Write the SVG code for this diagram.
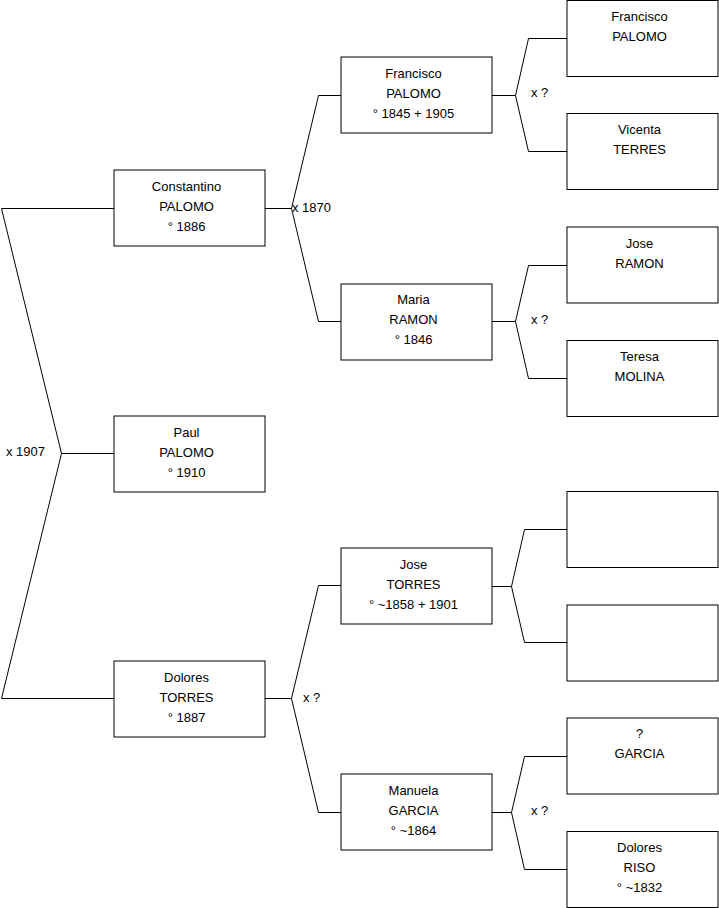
<svg xmlns="http://www.w3.org/2000/svg" width="719" height="908" viewBox="0 0 719 908">
<style>
.box{fill:#fff;stroke:#000;stroke-width:1}
.ln{fill:none;stroke:#000;stroke-width:1}
text{font-family:"Liberation Sans",Arial,sans-serif;font-size:13px;fill:#000}
.c{text-anchor:middle}
</style>
<rect width="719" height="908" fill="#fff"/>
<g id="connectors">
<path class="ln" d="M114,208.5 H1.5 L61.5,453.5 L1.5,698.5 H114 M61.5,453.5 H114"/>
<path class="ln" d="M265,208.5 H291.5 M341,95.5 H318.5 L291.5,208.5 L318.5,321.5 H341"/>
<path class="ln" d="M265,698.5 H291.5 M341,585.5 H318.5 L291.5,698.5 L318.5,812.5 H341"/>
<path class="ln" d="M492,95.5 H515.5 M567,38.5 H528.5 L515.5,95.5 L528.5,151.5 H567"/>
<path class="ln" d="M492,321.5 H515.5 M567,265.5 H528.5 L515.5,321.5 L528.5,378.5 H567"/>
<path class="ln" d="M492,586.5 H511.5 M567,529.5 H524.5 L511.5,586.5 L524.5,642.5 H567"/>
<path class="ln" d="M492,812.5 H511.5 M567,756.5 H524.5 L511.5,812.5 L524.5,869.5 H567"/>
<text x="6" y="456">x 1907</text>
<text x="292" y="212">x 1870</text>
<text x="531" y="97">x ?</text>
<text x="531" y="324">x ?</text>
<text x="303" y="702">x ?</text>
<text x="531" y="815">x ?</text>
</g>
<g id="constantino"><rect class="box" x="114" y="170" width="151" height="76"/><text class="c" x="186.5" y="191">Constantino</text><text class="c" x="186.5" y="211">PALOMO</text><text class="c" x="186.5" y="231">° 1886</text></g>
<g id="paul"><rect class="box" x="114" y="416" width="151" height="76"/><text class="c" x="186.5" y="437">Paul</text><text class="c" x="186.5" y="457">PALOMO</text><text class="c" x="186.5" y="477">° 1910</text></g>
<g id="dolores-torres"><rect class="box" x="114" y="661" width="151" height="76"/><text class="c" x="186.5" y="682">Dolores</text><text class="c" x="186.5" y="702">TORRES</text><text class="c" x="186.5" y="722">° 1887</text></g>
<g id="francisco-1845"><rect class="box" x="341" y="57" width="151" height="76"/><text class="c" x="413.5" y="78">Francisco</text><text class="c" x="413.5" y="98">PALOMO</text><text class="c" x="413.5" y="118">° 1845 + 1905</text></g>
<g id="maria-ramon"><rect class="box" x="341" y="284" width="151" height="76"/><text class="c" x="413.5" y="304">Maria</text><text class="c" x="413.5" y="324">RAMON</text><text class="c" x="413.5" y="344">° 1846</text></g>
<g id="jose-torres"><rect class="box" x="341" y="548" width="151" height="76"/><text class="c" x="413.5" y="569">Jose</text><text class="c" x="413.5" y="589">TORRES</text><text class="c" x="413.5" y="609">° ~1858 + 1901</text></g>
<g id="manuela-garcia"><rect class="box" x="341" y="774" width="151" height="76"/><text class="c" x="413.5" y="795">Manuela</text><text class="c" x="413.5" y="815">GARCIA</text><text class="c" x="413.5" y="835">° ~1864</text></g>
<g id="francisco-palomo"><rect class="box" x="567" y="0.5" width="151" height="76"/><text class="c" x="639.5" y="21">Francisco</text><text class="c" x="639.5" y="41">PALOMO</text></g>
<g id="vicenta-terres"><rect class="box" x="567" y="113.5" width="151" height="76"/><text class="c" x="639.5" y="134">Vicenta</text><text class="c" x="639.5" y="154">TERRES</text></g>
<g id="jose-ramon"><rect class="box" x="567" y="227" width="151" height="76"/><text class="c" x="639.5" y="248">Jose</text><text class="c" x="639.5" y="268">RAMON</text></g>
<g id="teresa-molina"><rect class="box" x="567" y="340.5" width="151" height="76"/><text class="c" x="639.5" y="361">Teresa</text><text class="c" x="639.5" y="381">MOLINA</text></g>
<g id="empty-1"><rect class="box" x="567" y="491.5" width="151" height="76"/></g>
<g id="empty-2"><rect class="box" x="567" y="605" width="151" height="76"/></g>
<g id="unknown-garcia"><rect class="box" x="567" y="718" width="151" height="76"/><text class="c" x="639.5" y="738">?</text><text class="c" x="639.5" y="758">GARCIA</text></g>
<g id="dolores-riso"><rect class="box" x="567" y="831.5" width="151" height="76"/><text class="c" x="639.5" y="852">Dolores</text><text class="c" x="639.5" y="872">RISO</text><text class="c" x="639.5" y="892">° ~1832</text></g>
</svg>
